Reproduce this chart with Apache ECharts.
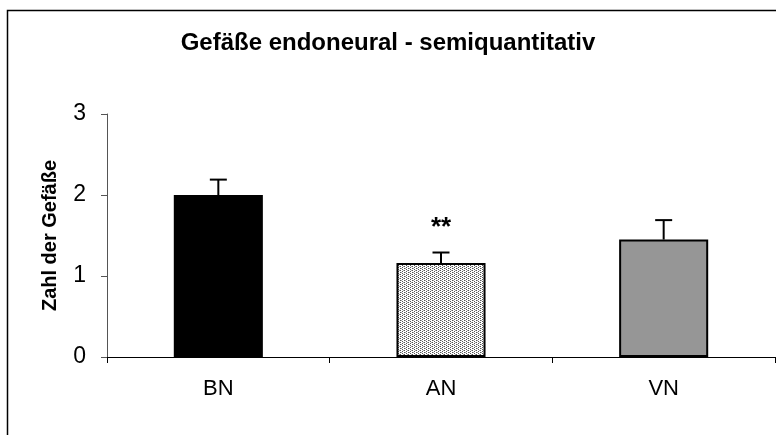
<!DOCTYPE html>
<html><head><meta charset="utf-8">
<script src="https://cdn.jsdelivr.net/npm/echarts@6/dist/echarts.min.js"></script>
<style>html,body{margin:0;padding:0;background:#fff}#c{width:776px;height:435px}</style>
</head><body><div id="c"></div>
<script>
var categories = ['BN', 'AN', 'VN'];
var means = [2.0, 1.16, 1.45];
var errors = [0.19, 0.13, 0.24];
var significance = ['', '**', ''];
var yTicks = [0, 1, 2, 3];

function makePattern() {
  var c = document.createElement('canvas');
  c.width = 4; c.height = 4;
  var ctx = c.getContext('2d');
  ctx.fillStyle = '#ffffff'; ctx.fillRect(0, 0, 4, 4);
  ctx.fillStyle = '#555555';
  ctx.fillRect(0, 0, 1, 1); ctx.fillRect(2, 1, 1, 1);
  ctx.fillRect(0, 2, 1, 1); ctx.fillRect(2, 3, 1, 1);
  ctx.fillStyle = '#aaaaaa';
  ctx.fillRect(1, 0, 1, 1); ctx.fillRect(3, 2, 1, 1);
  return c;
}
var fills = ['#000000', { image: makePattern(), repeat: 'repeat' }, '#969696'];

var chart = echarts.init(document.getElementById('c'), null, { renderer: 'canvas' });
var font = 'Liberation Sans, Arial, sans-serif';
chart.setOption({
  animation: false,
  backgroundColor: '#ffffff',
  title: {
    text: 'Gefäße endoneural - semiquantitativ',
    left: 'center', top: 26,
    textStyle: { fontFamily: font, fontSize: 24, fontWeight: 'bold', color: '#000' }
  },
  graphic: [{
    type: 'rect', shape: { x: 7.5, y: 10.5, width: 900, height: 600 },
    style: { fill: null, stroke: '#000', lineWidth: 1.5 }, silent: true
  }],
  grid: { left: 107, right: 1, top: 114, bottom: 78, containLabel: false },
  xAxis: {
    type: 'category', data: categories,
    axisLine: { lineStyle: { color: '#000', width: 1 } },
    axisTick: { show: true, length: 6, lineStyle: { color: '#000' } },
    axisLabel: { fontFamily: font, fontSize: 22, color: '#000', margin: 21 }
  },
  yAxis: {
    type: 'value', min: yTicks[0], max: yTicks[yTicks.length - 1], interval: 1,
    name: 'Zahl der Gefäße', nameLocation: 'middle', nameGap: 47, nameRotate: 90,
    nameTextStyle: { fontFamily: font, fontSize: 20, fontWeight: 'bold', color: '#000' },
    axisLine: { show: true, lineStyle: { color: '#555', width: 1 } },
    axisTick: { show: true, length: 6, lineStyle: { color: '#555' } },
    splitLine: { show: false },
    axisLabel: { fontFamily: font, fontSize: 23, color: '#000', margin: 21, padding: [10, 0, 0, 0] }
  },
  series: [{
    type: 'bar', barWidth: '40%',
    data: means.map(function (v, i) {
      return {
        value: v,
        itemStyle: {
          color: fills[i],
          borderColor: '#000',
          borderWidth: i === 0 ? 0 : 2
        }
      };
    }),
    z: 2
  }, {
    type: 'custom',
    data: means.map(function (v, i) { return [i, v, v + errors[i], significance[i]]; }),
    renderItem: function (params, api) {
      var x = api.value(0);
      var base = api.coord([x, api.value(1)]);
      var top = api.coord([x, api.value(2)]);
      var half = 8.5;
      var children = [
        { type: 'line', shape: { x1: base[0], y1: base[1], x2: top[0], y2: top[1] },
          style: { stroke: '#000', lineWidth: 2 } },
        { type: 'line', shape: { x1: top[0] - half, y1: top[1], x2: top[0] + half, y2: top[1] },
          style: { stroke: '#000', lineWidth: 2 } }
      ];
      var sig = significance[params.dataIndex];
      if (sig) {
        children.push({
          type: 'text',
          style: { text: sig, x: top[0], y: top[1] - 25, align: 'center', verticalAlign: 'middle',
                   font: 'bold 26px ' + font, fill: '#000' }
        });
      }
      return { type: 'group', children: children };
    },
    z: 3
  }]
});
</script>
</body></html>
